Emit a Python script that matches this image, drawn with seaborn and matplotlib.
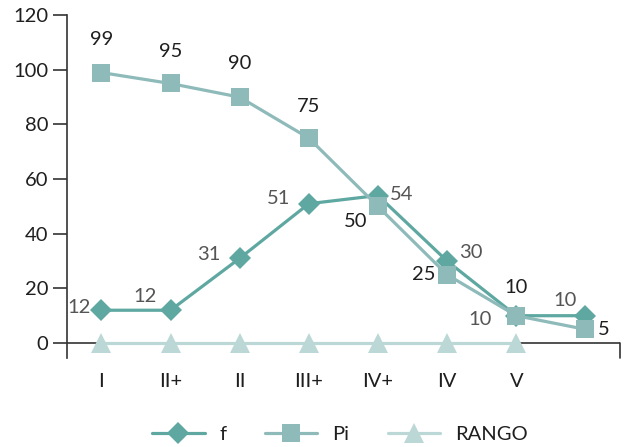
import matplotlib
matplotlib.use("Agg")
import matplotlib.pyplot as plt
from matplotlib.lines import Line2D
import numpy as np
import pandas as pd
import seaborn as sns

# Categories along the x axis (last slot has no label)
categorias = ["I", "II+", "II", "III+", "IV+", "IV", "V", ""]
f_vals = [12, 12, 31, 51, 54, 30, 10, 10]
pi_vals = [99, 95, 90, 75, 50, 25, 10, 5]
rango_vals = [0, 0, 0, 0, 0, 0, 0]

# Label offsets (points) for each data label
f_offsets = [(-16, 2), (-18, 10), (-22, 3), (-22, 4), (17, 1), (17, 6), (-26, -3), (-15, 11)]
pi_offsets = [(0, 24), (0, 23), (0, 24), (0, 23), (-16, -11), (-17, 0), (0, 20), (13, 0)]

C_F = "#5FA8A2"
C_PI = "#8FBABA"
C_RANGO = "#BCD8D6"
TXT = "#1F1F1F"
TXT_F = "#555555"
FS = 14.5

sns.set_theme(style="white")
plt.rcParams["font.family"] = ["Lato", "DejaVu Sans"]

fig = plt.figure(figsize=(6.24, 4.47), dpi=100)
ax = fig.add_axes([0.107, 0.199, 0.8866, 0.767])

pos = np.arange(len(categorias))
df_f = pd.DataFrame({"x": pos, "y": f_vals})
df_pi = pd.DataFrame({"x": pos, "y": pi_vals})
df_r = pd.DataFrame({"x": pos[:len(rango_vals)], "y": rango_vals})

sns.lineplot(data=df_f, x="x", y="y", ax=ax, color=C_F, linewidth=2.3,
             marker="D", markersize=11, markeredgewidth=0, zorder=3)
sns.lineplot(data=df_pi, x="x", y="y", ax=ax, color=C_PI, linewidth=2.3,
             marker="s", markersize=13, markeredgewidth=0, zorder=4)
sns.lineplot(data=df_r, x="x", y="y", ax=ax, color=C_RANGO, linewidth=2.3,
             marker="^", markersize=14, markeredgewidth=0, zorder=5)
for ln in ax.lines:
    ln.set_clip_on(False)

ax.set_xlim(-0.5, len(categorias) - 0.5)
ax.set_ylim(-5.5, 120)
ax.set_yticks(np.arange(0, 121, 20))
ax.set_xticks(pos)
ax.set_xticklabels(categorias)
ax.set_xlabel("")
ax.set_ylabel("")

for s in ["top", "right", "bottom"]:
    ax.spines[s].set_visible(False)
ax.spines["left"].set_color("#333333")
ax.spines["left"].set_linewidth(1.2)

ax.tick_params(axis="y", direction="out", length=10, width=1.2, color="#333333",
               labelsize=FS, labelcolor=TXT, pad=3.5, left=True)
ax.tick_params(axis="x", length=0, labelsize=FS, labelcolor=TXT, pad=11)

# horizontal category axis at zero with end tick
ax.axhline(0, color="#333333", linewidth=1.2, zorder=1)
ax.axvline(len(categorias) - 0.5, ymin=0, ymax=5.5 / 125.5, color="#333333",
           linewidth=1.2, clip_on=False)

for x, y, off in zip(pos, f_vals, f_offsets):
    ax.annotate(str(y), (x, y), xytext=off, textcoords="offset points",
                ha="center", va="center", fontsize=FS, color=TXT_F, zorder=6)
for x, y, off in zip(pos, pi_vals, pi_offsets):
    ax.annotate(str(y), (x, y), xytext=off, textcoords="offset points",
                ha="center", va="center", fontsize=FS, color=TXT, zorder=6)

handles = [
    Line2D([], [], color=C_F, linewidth=2.3, marker="D", markersize=11, markeredgewidth=0),
    Line2D([], [], color=C_PI, linewidth=2.3, marker="s", markersize=13, markeredgewidth=0),
    Line2D([], [], color=C_RANGO, linewidth=2.3, marker="^", markersize=14, markeredgewidth=0),
]
fig.legend(handles, ["f", "Pi", "RANGO"], loc="center", bbox_to_anchor=(0.545, 0.029),
           ncol=3, frameon=False, fontsize=FS, handlelength=2.6, handletextpad=0.75,
           columnspacing=1.9, labelcolor=TXT)

fig.savefig("out.png", dpi=100)
